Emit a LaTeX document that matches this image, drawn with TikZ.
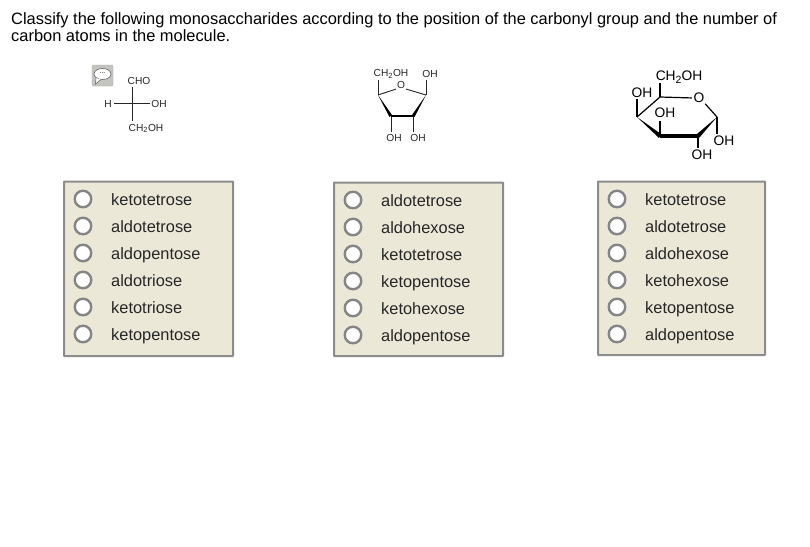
\documentclass[tikz,border=0pt]{standalone}
\usepackage{fontspec}
\usetikzlibrary{shapes.geometric}
\setmainfont{Liberation Sans}
\newcommand{\subtwo}{\textsubscript{\fontsize{7.5}{7.5}\selectfont 2}}
\newcommand{\subbig}{\raisebox{-2.5pt}{\fontsize{10.5}{10.5}\selectfont 2}}
\definecolor{boxfill}{HTML}{EBE8D8}
\definecolor{iconfill}{HTML}{C4C4C0}
\tikzset{
  x=1pt,y=-1pt,
  titletext/.style={anchor=base west,inner sep=0pt,font=\fontsize{16.42}{16}\selectfont},
  choicetext/.style={anchor=base west,inner sep=0pt,font=\fontsize{16.4}{16}\selectfont,text=black!85},
  choicebox/.style={draw=black!45,line width=2pt,fill=boxfill,rounded corners=0.5pt},
  radio/.style={circle,draw=black!48,line width=2.4pt,fill=white,minimum size=16.5pt,inner sep=0pt},
  smalllabel/.style={inner sep=0pt,font=\fontsize{10.2}{10}\selectfont,text=black!85},
  biglabel/.style={inner sep=0pt,font=\fontsize{13.8}{14}\selectfont},
  bond/.style={line width=0.9pt,draw=black!85},
  boldbond/.style={line width=2pt,draw=black},
  bigbond/.style={line width=1.2pt,draw=black},
}
\begin{document}
\begin{tikzpicture}
\useasboundingbox (0,0) rectangle (810,546);
\fill[white] (0,0) rectangle (810,546);
% question
\node[titletext] (q1) at (11,24) {Classify the following monosaccharides according to the position of the carbonyl group and the number of};
\node[titletext] (q2) at (11,41) {carbon atoms in the molecule.};
% comment icon
\node[draw=black!35,fill=iconfill,rounded corners=2pt,minimum size=21pt,inner sep=0pt] (icon) at (102.5,75.5) {};
\node[ellipse,fill=white,draw=black!60,line width=0.6pt,minimum width=17pt,minimum height=11pt,inner sep=0pt,font=\fontsize{7}{7}\selectfont] (bubble) at (102.5,74) {\raisebox{1.5pt}{...}};
\draw[fill=white,draw=black!60,line width=0.6pt] (96,78) -- (95.5,84) -- (101,79.5);
% molecule 1
\node[smalllabel] (cho) at (139,81) {CHO};
\node[smalllabel] (h1) at (108,104) {H};
\node[smalllabel] (oh1) at (159,104) {OH};
\node[smalllabel] (ch2oh1) at (146,128.5) {CH\subtwo OH};
\coordinate (top1) at (132,87);
\coordinate (bot1) at (132,121);
\coordinate (lef1) at (114,103);
\coordinate (rig1) at (150,103);
\draw[bond] (top1) -- (bot1);
\draw[bond] (lef1) -- (rig1);
% molecule 2
\node[smalllabel] (ch2oh2) at (391,74) {CH\subtwo OH};
\node[smalllabel] (oh2a) at (430,74) {OH};
\node[smalllabel] (o2) at (401,85) {O};
\node[smalllabel] (oh2b) at (394,138) {OH};
\node[smalllabel] (oh2c) at (418,138) {OH};
\coordinate (l2) at (378,95);
\coordinate (r2) at (426,95);
\coordinate (bl2) at (391,116);
\coordinate (br2) at (413,116);
\draw[bond] (l2) -- (378,80);
\draw[bond] (r2) -- (426,80);
\draw[bond,shorten >=1pt] (l2) -- (o2.south west);
\draw[bond,shorten >=1pt] (r2) -- (o2.south east);
\draw[bond] (bl2) -- (391,132);
\draw[bond] (br2) -- (413,132);
\fill[black] (l2) -- (389.5,117) -- (392,115) -- cycle;
\fill[black] (r2) -- (414.5,117) -- (412,115) -- cycle;
\draw[boldbond] (bl2) -- (br2);
% molecule 3
\node[biglabel] (ch2oh3) at (679,77) {CH\subbig OH};
\node[biglabel] (oh3a) at (642,93) {OH};
\node[biglabel] (o3) at (699,98) {O};
\node[biglabel] (oh3b) at (665,113) {OH};
\node[biglabel] (oh3c) at (724,141) {OH};
\node[biglabel] (oh3d) at (702,155) {OH};
\coordinate (a3) at (660,97);
\coordinate (b3) at (637,117);
\coordinate (c3) at (660,136);
\coordinate (d3) at (698,136);
\coordinate (e3) at (717,117);
\draw[bigbond,shorten >=1.5pt] (a3) -- (o3.west);
\draw[bigbond,shorten <=1pt] (o3.south east) -- (e3);
\draw[bigbond] (a3) -- (b3);
\draw[bigbond] (a3) -- (660,83);
\draw[bigbond] (b3) -- (637,99);
\draw[bigbond] (c3) -- (660,121);
\draw[bigbond] (e3) -- (717,134);
\draw[bigbond] (d3) -- (698,148);
\fill[black] (b3) -- (659,138) -- (661,134) -- cycle;
\fill[black] (e3) -- (699,138) -- (697,134) -- cycle;
\draw[line width=4pt] (c3) -- (d3);
% choice boxes
\node[choicebox,anchor=north west,minimum width=169pt,minimum height=174.5pt,inner sep=0pt] (box1) at (63,180.5) {};
\node[choicebox,anchor=north west,minimum width=169pt,minimum height=173.5pt,inner sep=0pt] (box2) at (333,181.5) {};
\node[choicebox,anchor=north west,minimum width=167pt,minimum height=173.5pt,inner sep=0pt] (box3) at (597,180.5) {};
\foreach \t [count=\i from 0] in {ketotetrose,aldotetrose,aldopentose,aldotriose,ketotriose,ketopentose}{
  \node[radio] (ra\i) at (83,199+27*\i) {};
  \node[choicetext] (ta\i) at (111,205+27*\i) {\t};
}
\foreach \t [count=\i from 0] in {aldotetrose,aldohexose,ketotetrose,ketopentose,ketohexose,aldopentose}{
  \node[radio] (rb\i) at (353,200+27*\i) {};
  \node[choicetext] (tb\i) at (381,206+27*\i) {\t};
}
\foreach \t [count=\i from 0] in {ketotetrose,aldotetrose,aldohexose,ketohexose,ketopentose,aldopentose}{
  \node[radio] (rc\i) at (617,199+27*\i) {};
  \node[choicetext] (tc\i) at (645,205+27*\i) {\t};
}
\end{tikzpicture}
\end{document}
